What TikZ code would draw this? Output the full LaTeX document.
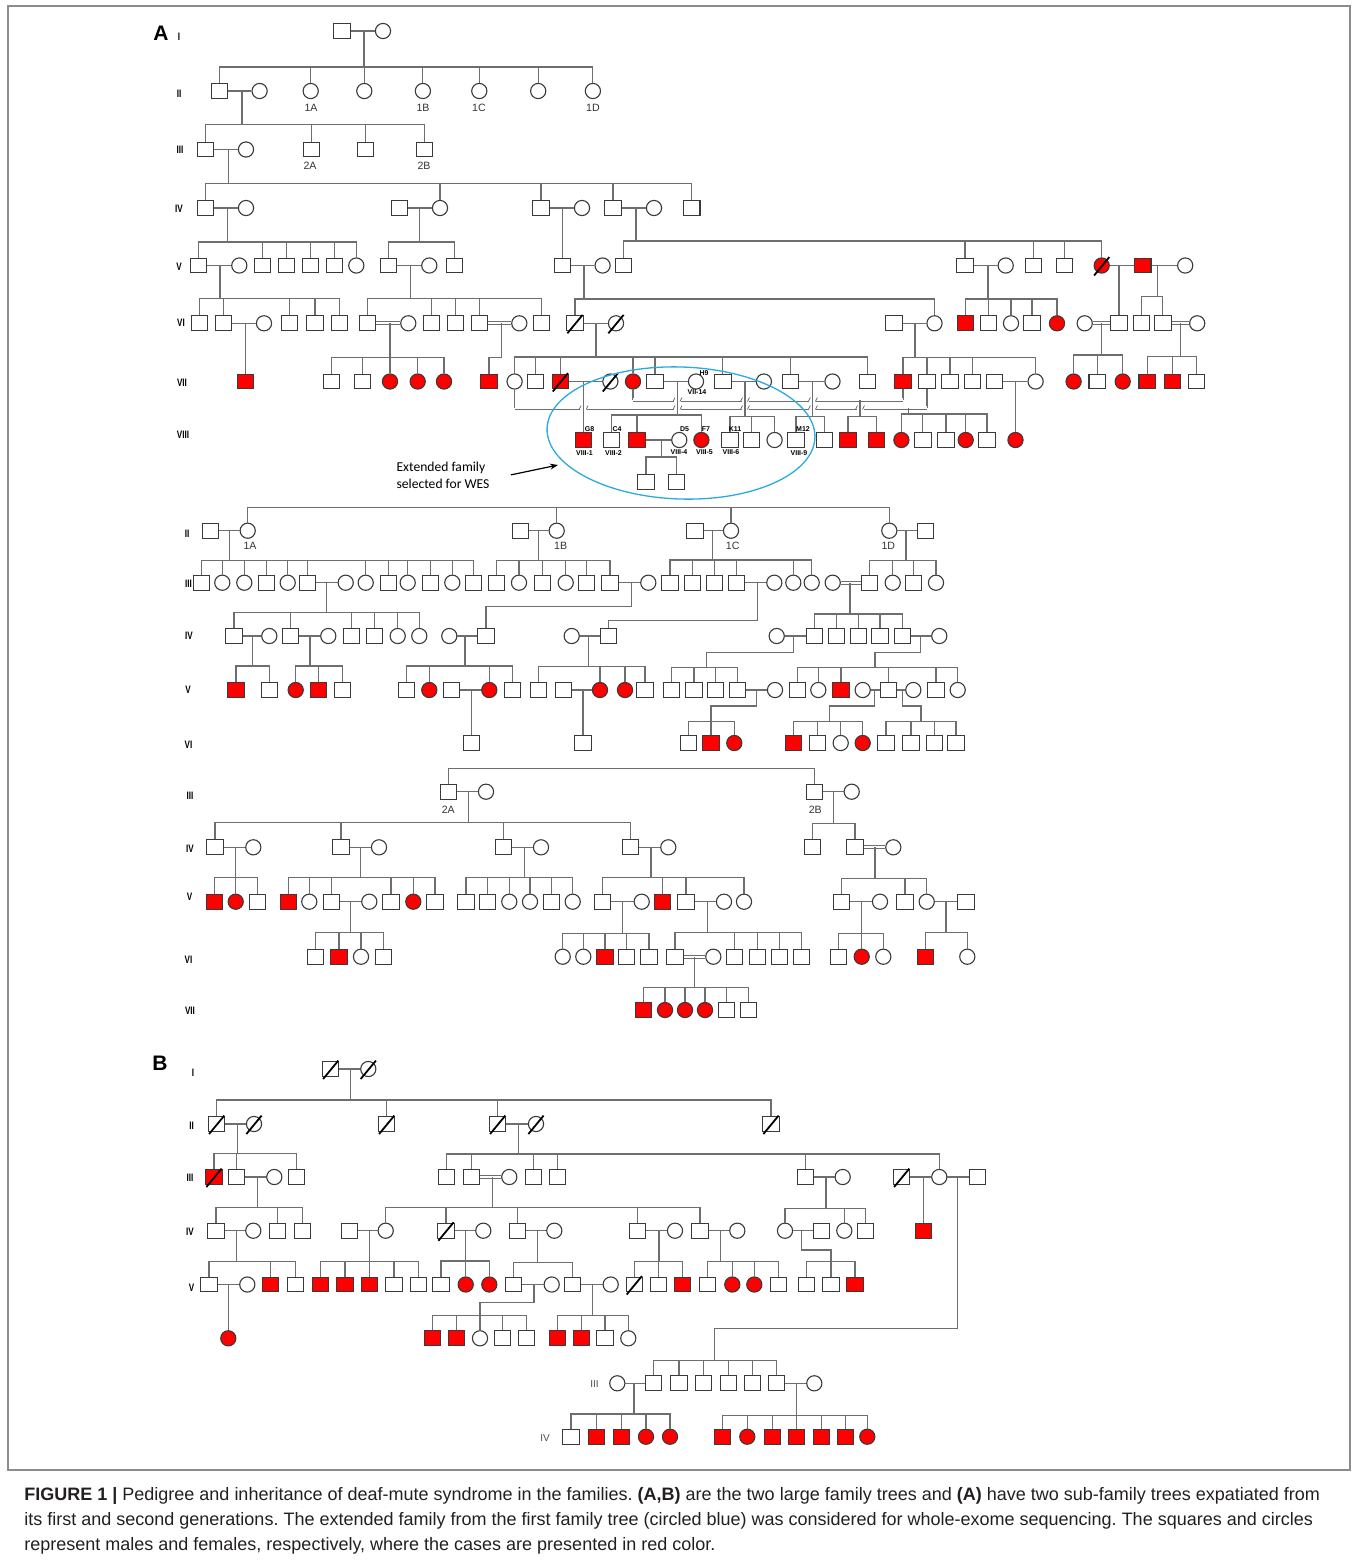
\documentclass[tikz,border=0pt]{standalone}
\usepackage{fontspec}
\setmainfont{Liberation Sans}
\newfontfamily\narrowf[FakeStretch=0.75]{Liberation Sans}
\newfontfamily\calib{Carlito}
\usetikzlibrary{calc,arrows.meta}
\definecolor{lncol}{HTML}{6E6E6E}
\definecolor{symcol}{HTML}{3A3A3A}
\definecolor{affred}{HTML}{FF0000}
\definecolor{wesblue}{HTML}{29ABE2}
\definecolor{captxt}{HTML}{231F20}
\definecolor{framecol}{HTML}{8C8C8C}
\tikzset{
 ln/.style={draw=lncol, line width=0.55pt},
 dbl/.style={draw=lncol, line width=0.45pt, double=white, double distance=1.1pt},
 ma/.style={rectangle, draw=symcol, line width=0.55pt, fill=white, minimum width=8.2pt, minimum height=7.4pt, inner sep=0pt},
 fe/.style={circle, draw=symcol, line width=0.55pt, fill=white, minimum size=7.6pt, inner sep=0pt},
 aff/.style={fill=affred},
 deadln/.style={draw=black, line width=0.9pt},
 gen/.style={font=\narrowf\bfseries\fontsize{5.4}{6}\selectfont, inner sep=0pt},
 genl/.style={font=\fontsize{5}{6}\selectfont, text=black!70, inner sep=0pt},
 lbl/.style={font=\fontsize{5.3}{6}\selectfont, text=black!80, inner sep=0pt},
 tinyl/.style={font=\bfseries\fontsize{3.5}{4}\selectfont, inner sep=0pt},
 captext/.style={anchor=base west, font=\frenchspacing\fontsize{9}{11}\selectfont, text=captxt, inner sep=0pt},
}
\def\Y{0}
\newcommand\nM[2]{\node[ma] (#1) at (#2,\Y) {};}
\newcommand\nF[2]{\node[fe] (#1) at (#2,\Y) {};}
\newcommand\nMr[2]{\node[ma,aff] (#1) at (#2,\Y) {};}
\newcommand\nFr[2]{\node[fe,aff] (#1) at (#2,\Y) {};}
\newcommand\wed[2]{\draw[ln] (#1) -- (#2);}
\newcommand\cwed[2]{\draw[dbl] (#1) -- (#2);}
\newcommand\kids[2]{\foreach \kid in {#2}{\draw[ln] (\kid.north) |- (#1);}}
\newcommand\sibs[5]{\coordinate (#1) at (#3,#4); \draw[ln] (#1 |- #2) -- (#1); \kids{#1}{#5}}
\newcommand\onechild[2]{\draw[ln] (#2.north |- #1) -- (#2.north);}
\newcommand\deceased[1]{\draw[deadln] ([shift={(-3.8pt,-5pt)}]#1.center) -- ([shift={(3.8pt,4.2pt)}]#1.center);}
\newcommand\jump[2]{\fill[white] (#1-3.5,#2-3) rectangle (#1+3.5,#2+3);
  \draw[lncol, line width=0.4pt] (#1-4.5,#2+2) -- (#1-2.5,#2-2); \draw[lncol, line width=0.4pt] (#1+2.5,#2+2) -- (#1+4.5,#2-2);}
\begin{document}
\begin{tikzpicture}[x=0.5pt,y=-0.5pt]
\useasboundingbox (0,0) rectangle (1357,1560);
\draw[framecol, line width=0.6pt] (8,6) rectangle (1350,1470);

% ===================== A (main tree) =====================
\node[font=\bfseries\fontsize{10.5}{12}\selectfont, inner sep=0pt] (labA) at (161,33) {A};
\node[gen] (gA1) at (179,37) {I};
\node[gen] (gA2) at (179,94) {II};
\node[gen] (gA3) at (180,150) {III};
\node[gen] (gA4) at (179,209) {IV};
\node[gen] (gA5) at (179,267) {V};
\node[gen] (gA6) at (181,323) {VI};
\node[gen] (gA7) at (182,383) {VII};
\node[gen] (gA8) at (183,435) {VIII};

\def\Y{31}
\nM{a1}{342} \nF{a2}{383}
\wed{a1}{a2}
\def\Y{91}
\nM{b1}{219.5} \nF{b2}{259.6} \nF{b3}{310.7} \nF{b4}{364.3} \nF{b5}{422.9} \nF{b6}{479.3} \nF{b7}{538.2} \nF{b8}{592.9}
\sibs{D1}{a1}{364}{67}{b1,b3,b4,b5,b6,b7,b8}
\wed{b1}{b2}
\node[lbl] (t1A) at (311,107.5) {1A};
\node[lbl] (t1B) at (423,107.5) {1B};
\node[lbl] (t1C) at (479,107.5) {1C};
\node[lbl] (t1D) at (593,107.5) {1D};
\def\Y{149.5}
\nM{c1}{205.4} \nF{c2}{246} \nM{c3}{311.4} \nM{c4}{365.7} \nM{c5}{424.6}
\sibs{D2}{b1}{242}{124.5}{c1,c3,c4,c5}
\wed{c1}{c2}
\node[lbl] (t2A) at (310,166) {2A};
\node[lbl] (t2B) at (424,166) {2B};
\def\Y{208}
\nM{d1}{205.4} \nF{d2}{246} \nM{d3}{399.6} \nF{d4}{440} \nM{d5}{541} \nF{d6}{582} \nM{d7}{613} \nF{d8}{654} \nM{d9}{691.8}
\sibs{D3}{c1}{228.6}{183.5}{d1,d4,d5,d7,d9}
\wed{d1}{d2} \wed{d3}{d4} \wed{d5}{d6} \wed{d7}{d8}
\def\Y{265.5}
\nM{e1}{198.7} \nF{e2}{239.3} \nM{e3}{262.3} \nM{e4}{286.7} \nM{e5}{310.7} \nM{e6}{334.7} \nF{e7}{356.3}
\sibs{D4}{d1}{227.5}{242}{e1,e3,e4,e5,e6,e7}
\nM{e8}{388.7} \nF{e9}{429.3} \nM{e10}{454.7}
\sibs{D5}{d3}{419.3}{242}{e8,e10}
\nM{e11}{562.4} \nF{e12}{602.6}
\onechild{d5}{e11}
\nM{e13}{623.6} \nM{e14}{965} \nF{e15}{1005.7} \nM{e16}{1033.4} \nM{e17}{1064.6} \nFr{e18}{1101.7} \nMr{e19}{1142.8} \nF{e20}{1185.2}
\sibs{D6}{d7}{636}{241}{e13,e14,e16,e17,e18}
\wed{e1}{e2} \wed{e8}{e9} \wed{e11}{e12} \wed{e14}{e15} \wed{e18}{e19} \wed{e19}{e20}
\deceased{e18}
\def\Y{323.3}
\nM{f1}{199.3} \nM{f2}{223.3} \nF{f3}{264} \nM{f4}{289.3} \nM{f5}{315} \nM{f6}{339.3}
\sibs{D7}{e1}{220}{298.3}{f1,f2,f4,f5,f6}
\nM{f7}{367.7} \nF{f8}{408.3} \nM{f9}{431.7} \nM{f10}{455.7} \nM{f11}{479.3} \nF{f12}{519.3} \nM{f13}{541.7}
\sibs{D8}{e8}{410.7}{298.3}{f7,f9,f10,f11,f13}
\nM{f14}{575} \nF{f15}{616} \nM{f16}{894} \nF{f17}{934.5}
\sibs{D9}{e11}{584}{299}{f14,f17}
\nMr{f18}{965.5} \nM{f19}{988.7} \nF{f20}{1011} \nM{f21}{1032} \nFr{f22}{1057}
\sibs{D10}{e14}{988}{299}{f18,f19,f20,f21,f22}
\nF{f23}{1084.7} \nM{f24}{1119}
\onechild{e18}{f24}
\nM{f25}{1141.4} \nM{f26}{1162.9} \nF{f27}{1197.2}
\sibs{D11}{e19}{1157.5}{296.7}{f25,f26}
\wed{f2}{f3} \cwed{f7}{f8} \cwed{f11}{f12} \wed{f14}{f15} \wed{f16}{f17} \cwed{f23}{f24} \cwed{f26}{f27}
\deceased{f14} \deceased{f15}
\def\Y{381.5}
\nMr{g1}{245.3}
\onechild{f2}{g1}
\nM{g2}{331.7} \nM{g3}{362.7} \nFr{g4}{390} \nFr{g5}{417.7} \nFr{g6}{444}
\sibs{D12}{f7}{390}{357.7}{g2,g3,g4,g5,g6}
\nMr{g7}{489}
\coordinate (D13) at (501.7,357.7);
\draw[ln] (D13 |- f11) -- (D13) -| (g7.north);
\nF{g8}{514.6} \nM{g9}{535.4} \nMr{g10}{560.4} \nF{g11}{610.4} \nFr{g12}{633} \nM{g13}{655} \nF{g14}{696} \nM{g15}{722.9} \nF{g16}{763.9} \nM{g17}{790.7} \nF{g18}{832.5} \nM{g19}{867.5}
\sibs{D14}{f14}{596}{357}{g8,g9,g10,g12,g13,g15,g17,g19}
\nMr{g20}{903} \nM{g21}{927} \nM{g22}{950} \nM{g23}{972.5} \nM{g24}{994.6} \nF{g25}{1035.6}
\sibs{D15}{f16}{915}{357.7}{g20,g21,g22,g23,g25}
\nFr{g26}{1073.6} \nM{g27}{1097.2} \nFr{g28}{1122.7}
\sibs{D16}{f23}{1101.7}{355}{g26,g27,g28}
\nMr{g29}{1147.2} \nMr{g30}{1172.7} \nM{g31}{1196.3}
\sibs{D17}{f26}{1180.7}{356.7}{g29,g30,g31}
\wed{g10}{g11} \wed{g13}{g14} \wed{g15}{g16} \wed{g17}{g18} \wed{g24}{g25}
\deceased{g10} \deceased{g11}
\node[tinyl] (tH9) at (704,373.5) {H9};
\node[tinyl] (tVII14) at (697,392.5) {VII-14};
% consanguineous loops
\coordinate (T1a) at (633,399.5); \coordinate (T1b) at (903,399.5);
\draw[ln] (g12.south) -- (T1a); \draw[ln] (g20.south) -- (T1b); \draw[dbl] (T1a) -- (T1b);
\coordinate (T2a) at (514.6,407.5); \coordinate (T2b) at (927,407.5);
\draw[ln] (g8.south) -- (T2a); \draw[ln] (g21.south) -- (T2b); \draw[dbl] (T2a) -- (T2b);
\jump{677.5}{399.5} \jump{745}{399.5} \jump{812.9}{399.5}
\jump{583.6}{407.5} \jump{677.5}{407.5} \jump{745}{407.5} \jump{812.9}{407.5} \jump{860}{407.5}
\def\Y{440}
\nMr{h1}{583.6}
\onechild{g10}{h1}
\nM{h2}{611.4} \nMr{h3}{637} \nF{h4}{679.3} \nFr{h5}{701.4}
\sibs{D18}{g13}{677.5}{415}{h2,h3,h5}
\nM{h6}{730} \nM{h7}{751.4} \nF{h8}{774.6}
\sibs{D19}{g15}{745}{416.7}{h6,h7,h8}
\nM{h9}{796} \nM{h10}{824.6}
\sibs{D20}{g17}{812.9}{416.7}{h9,h10}
\nMr{h11}{848} \nMr{h12}{876.4}
\sibs{D21}{T1a}{860}{416.7}{h11,h12}
\nFr{h13}{901.4} \nM{h14}{922.9} \nM{h15}{946} \nFr{h16}{965.7} \nM{h17}{987}
\sibs{D22}{T2a}{908.6}{414}{h13,h14,h15,h16,h17}
\nFr{h18}{1015.5}
\onechild{g24}{h18}
\wed{h3}{h4}
\node[tinyl] (tG8) at (589.5,429) {G8};
\node[tinyl] (tC4) at (617,429) {C4};
\node[tinyl] (tD5) at (684.5,429) {D5};
\node[tinyl] (tF7) at (706,429) {F7};
\node[tinyl] (tK11) at (735,429) {K11};
\node[tinyl] (tM12) at (803,429) {M12};
\node[tinyl] (tV1) at (584.5,453.5) {VIII-1};
\node[tinyl] (tV2) at (613.5,453.5) {VIII-2};
\node[tinyl] (tV4) at (679,452) {VIII-4};
\node[tinyl] (tV5) at (704.5,452) {VIII-5};
\node[tinyl] (tV6) at (731,452) {VIII-6};
\node[tinyl] (tV9) at (799,453.5) {VIII-9};
\def\Y{481.7}
\nM{i1}{646} \nM{i2}{676.4}
\sibs{D23}{h3}{661.4}{457}{i1,i2}
\draw[wesblue, line width=0.65pt, rotate around={-2:(681,433)}] (681,433) ellipse [x radius=67pt, y radius=33pt];
\node[font=\calib\fontsize{6.8}{8.6}\selectfont, align=left, inner sep=0pt] (wesTxt) at (443,475.5) {Extended family\\selected for WES};
\coordinate (arrTip) at (558,465);
\draw[black, line width=0.6pt, -{Stealth[length=4pt,width=3pt]}] ([xshift=10.5pt,yshift=0.3pt]wesTxt.east) -- (arrTip);

% ===================== A sub-tree 1 (1A-1D) =====================
\node[gen] (gB2) at (187,533.5) {II};
\node[gen] (gB3) at (188.5,583.5) {III};
\node[gen] (gB4) at (189,636) {IV};
\node[gen] (gB5) at (188,689.5) {V};
\node[gen] (gB6) at (188.5,745) {VI};
\def\Y{530.7}
\nM{j1}{210.7} \nF{j2}{247.7} \nM{j3}{520.7} \nF{j4}{556.7} \nM{j5}{695} \nF{j6}{731} \nF{j7}{889.3} \nM{j8}{925.7}
\coordinate (Dj) at (889.3,507.3);
\kids{Dj}{j2,j4,j6,j7}
\wed{j1}{j2} \wed{j3}{j4} \wed{j5}{j6} \wed{j7}{j8}
\node[lbl] (s1A) at (250,546) {1A};
\node[lbl] (s1B) at (560.7,546) {1B};
\node[lbl] (s1C) at (732.7,546) {1C};
\node[lbl] (s1D) at (888.3,546) {1D};
\def\Y{582.7}
\nM{k1}{201.7} \nF{k2}{222.3} \nF{k3}{244.3} \nM{k4}{266.3} \nF{k5}{287.7} \nM{k6}{307.7} \nF{k7}{345.7} \nF{k8}{365.7} \nM{k9}{388.3} \nF{k10}{407.7} \nM{k11}{430.3} \nF{k12}{452.3} \nM{k13}{473.3}
\sibs{Dk1}{j1}{229.3}{560.7}{k1,k2,k3,k4,k5,k6,k8,k9,k10,k11,k12,k13}
\nM{k14}{496.7} \nF{k15}{519} \nM{k16}{542.3} \nF{k17}{565.7} \nM{k18}{586.7} \nM{k19}{610} \nF{k20}{648.3}
\sibs{Dk2}{j3}{538.3}{560.7}{k14,k15,k16,k17,k18,k19}
\nM{k21}{670} \nM{k22}{692.7} \nM{k23}{714.3} \nM{k24}{736.7} \nF{k25}{774.3} \nF{k26}{793.3} \nF{k27}{811.7}
\sibs{Dk3}{j5}{712.7}{560}{k21,k22,k23,k24,k26,k27}
\nF{k28}{832.7} \nM{k29}{869.3} \nF{k30}{892.7} \nM{k31}{913.3} \nF{k32}{936}
\sibs{Dk4}{j7}{906}{560.7}{k29,k30,k31,k32}
\wed{k6}{k7} \wed{k19}{k20} \wed{k24}{k25} \cwed{k28}{k29}
\def\Y{636}
\nM{l1}{234} \nF{l2}{269.3} \nM{l3}{290.7} \nF{l4}{328.3} \nM{l5}{351.7} \nM{l6}{374.3} \nF{l7}{397.7} \nF{l8}{419.3}
\sibs{Dl1}{k6}{326.7}{612.7}{l1,l3,l5,l6,l7,l8}
\nF{l9}{449.3} \nM{l10}{486}
\coordinate (Dl2) at (631.7,606.7);
\draw[ln] (Dl2 |- k19) -- (Dl2) -| (l10.north);
\nF{l11}{571.7} \nM{l12}{608.3}
\coordinate (Dl3) at (757.3,620.7);
\draw[ln] (Dl3 |- k24) -- (Dl3) -| (l12.north);
\nF{l13}{776.7} \nM{l14}{814.3} \nM{l15}{836.7} \nM{l16}{858.3} \nM{l17}{880} \nM{l18}{902.7} \nF{l19}{939.3}
\sibs{Dl4}{k28}{850}{614}{l14,l15,l16,l17,l18}
\wed{l1}{l2} \wed{l3}{l4} \wed{l9}{l10} \wed{l11}{l12} \wed{l13}{l14} \wed{l18}{l19}
\def\Y{690}
\nMr{m1}{236} \nM{m2}{269.3}
\sibs{Dm1}{l1}{252.7}{666}{m1,m2}
\nFr{m3}{295.7} \nMr{m4}{318.3} \nM{m5}{342.3}
\sibs{Dm2}{l3}{310}{666}{m3,m4,m5}
\nM{m6}{406.7} \nFr{m7}{429.3} \nM{m8}{451.7} \nFr{m9}{489.3} \nM{m10}{512.3}
\sibs{Dm3}{l9}{465}{666}{m6,m7,m9,m10}
\nM{m11}{538.3} \nM{m12}{563.3} \nFr{m13}{600} \nFr{m14}{625} \nM{m15}{645}
\sibs{Dm4}{l11}{588.3}{666.7}{m11,m13,m14,m15}
\nM{m16}{671.7} \nM{m17}{694} \nM{m18}{715.7} \nM{m19}{737.3} \nF{m20}{775}
\coordinate (Dm5a) at (793.3,652.7); \coordinate (Dm5) at (706.7,667.3);
\draw[ln] (Dm5a |- l13) -- (Dm5a) -| (Dm5);
\kids{Dm5}{m16,m17,m18,m19}
\nM{m21}{797.3} \nF{m22}{818.3} \nMr{m23}{841} \nF{m24}{862.7} \nM{m25}{888.3} \nF{m26}{913.3} \nM{m27}{936} \nF{m28}{957.7}
\coordinate (Dm6a) at (920.7,652.7); \coordinate (Dm6) at (875,667.3);
\draw[ln] (Dm6a |- l18) -- (Dm6a) -| (Dm6);
\kids{Dm6}{m21,m22,m23,m25,m27,m28}
\wed{m8}{m9} \wed{m12}{m13} \wed{m19}{m20} \wed{m24}{m25} \wed{m25}{m26}
\def\Y{743}
\nM{n1}{471.7}
\onechild{m8}{n1}
\nM{n2}{583}
\onechild{m12}{n2}
\nM{n3}{688.3} \nMr{n4}{711} \nFr{n5}{734.3}
\coordinate (Dn3a) at (756.7,706); \coordinate (Dn3) at (711,721.7);
\draw[ln] (Dn3a |- m19) -- (Dn3a) -| (Dn3);
\kids{Dn3}{n3,n4,n5}
\nMr{n6}{793.3} \nM{n7}{817.3} \nF{n8}{840.7} \nFr{n9}{862.7}
\coordinate (Dn4a) at (874.3,706); \coordinate (Dn4) at (829.3,721.7);
\draw[ln] (Dn4a |- m24) -- (Dn4a) -| (Dn4);
\kids{Dn4}{n6,n7,n8,n9}
\nM{n10}{886} \nM{n11}{911} \nM{n12}{934.3} \nM{n13}{956}
\coordinate (Dn5a) at (902.3,706); \coordinate (Dn5) at (921,721.7);
\draw[ln] (Dn5a |- m25) -- (Dn5a) -| (Dn5);
\kids{Dn5}{n10,n11,n12,n13}

% ===================== A sub-tree 2 (2A, 2B) =====================
\node[gen] (gC3) at (190,796) {III};
\node[gen] (gC4) at (190,848.5) {IV};
\node[gen] (gC5) at (189.5,897) {V};
\node[gen] (gC6) at (188.5,959.5) {VI};
\node[gen] (gC7) at (190,1010.5) {VII};
\def\Y{791.7}
\nM{o1}{448.3} \nF{o2}{486} \nM{o3}{814.3} \nF{o4}{851.7}
\coordinate (Do) at (814.3,768.3);
\kids{Do}{o1,o3}
\wed{o1}{o2} \wed{o3}{o4}
\node[lbl] (s2A) at (448.3,810) {2A};
\node[lbl] (s2B) at (815.3,809.5) {2B};
\def\Y{847.3}
\nM{p1}{215} \nF{p2}{253.3} \nM{p3}{341} \nF{p4}{379} \nM{p5}{503.3} \nF{p6}{541} \nM{p7}{630.7} \nF{p8}{668.3}
\sibs{Dp1}{o1}{468.3}{822.7}{p1,p3,p5,p7}
\nM{p9}{812.3} \nM{p10}{855} \nF{p11}{893.3}
\sibs{Dp2}{o3}{833.3}{823.3}{p9,p10}
\wed{p1}{p2} \wed{p3}{p4} \wed{p5}{p6} \wed{p7}{p8} \cwed{p10}{p11}
\def\Y{901.7}
\nMr{q1}{214.3} \nFr{q2}{235.7} \nM{q3}{257.3}
\sibs{Dq1}{p1}{235.7}{877.3}{q1,q2,q3}
\nMr{q4}{288.3} \nF{q5}{309.3} \nM{q6}{331.7} \nF{q7}{369.3} \nM{q8}{391} \nFr{q9}{413.3} \nM{q10}{435}
\sibs{Dq2}{p3}{360.7}{877.3}{q4,q5,q6,q8,q9,q10}
\nM{q11}{466} \nM{q12}{487.7} \nF{q13}{509.3} \nF{q14}{530} \nM{q15}{551.7} \nF{q16}{572.7}
\sibs{Dq3}{p5}{524.3}{877.3}{q11,q12,q13,q14,q15,q16}
\nM{q17}{602.7} \nF{q18}{641.7} \nMr{q19}{662.3} \nM{q20}{686} \nF{q21}{724} \nF{q22}{744}
\sibs{Dq4}{p7}{651}{877.3}{q17,q19,q20,q22}
\nM{q23}{841.7} \nF{q24}{880} \nM{q25}{905} \nF{q26}{926.7} \nM{q27}{966}
\sibs{Dq5}{p10}{875}{878.3}{q23,q25,q26}
\wed{q6}{q7} \wed{q17}{q18} \wed{q20}{q21} \wed{q23}{q24} \wed{q26}{q27}
\def\Y{956.7}
\nM{r1}{315.7} \nMr{r2}{339} \nF{r3}{361} \nM{r4}{383.3}
\sibs{Dr1}{q6}{350.3}{932.7}{r1,r2,r3,r4}
\nF{r5}{562.7} \nF{r6}{583.3} \nMr{r7}{605} \nM{r8}{626.7} \nM{r9}{649}
\sibs{Dr2}{q17}{622.7}{933.3}{r5,r6,r7,r8,r9}
\nM{r10}{675} \nF{r11}{713.3} \nM{r12}{734.3} \nM{r13}{757.3} \nM{r14}{779.3} \nM{r15}{801.7}
\sibs{Dr3}{q20}{707.3}{932.7}{r10,r12,r13,r14,r15}
\nM{r16}{838.3} \nFr{r17}{861.7} \nF{r18}{883.3}
\sibs{Dr4}{q23}{861.7}{933.3}{r16,r17,r18}
\nMr{r19}{925.7} \nF{r20}{967.3}
\sibs{Dr5}{q26}{946}{932.7}{r19,r20}
\cwed{r10}{r11}
\def\Y{1010}
\nMr{s1}{643.3} \nFr{s2}{665} \nFr{s3}{685} \nFr{s4}{705} \nM{s5}{726.7} \nM{s6}{748.3}
\sibs{Ds}{r10}{694.3}{987.3}{s1,s2,s3,s4,s5,s6}

% ===================== B =====================
\node[font=\bfseries\fontsize{10.5}{12}\selectfont, inner sep=0pt] (labB) at (160,1063) {B};
\node[gen] (gD1) at (193,1072.5) {I};
\node[gen] (gD2) at (191.5,1125.5) {II};
\node[gen] (gD3) at (190,1177.5) {III};
\node[gen] (gD4) at (190,1232) {IV};
\node[gen] (gD5) at (191.5,1288) {V};
\def\Y{1069}
\nM{t1}{330.7} \nF{t2}{368.3}
\wed{t1}{t2}
\deceased{t1} \deceased{t2}
\def\Y{1124}
\nM{u1}{216.7} \nF{u2}{254} \nM{u3}{386.7} \nM{u4}{497.7} \nF{u5}{536} \nM{u6}{771}
\sibs{Dt}{t1}{350.7}{1100}{u1,u3,u4,u6}
\wed{u1}{u2} \wed{u4}{u5}
\deceased{u1} \deceased{u2} \deceased{u3} \deceased{u4} \deceased{u5} \deceased{u6}
\def\Y{1177}
\nMr{v1}{214} \nM{v2}{236.7} \nF{v3}{274.3} \nM{v4}{296.7}
\sibs{Du1}{u1}{237.3}{1153.3}{v1,v2,v4}
\nM{v5}{446.7} \nM{v6}{471.7} \nF{v7}{509.3} \nM{v8}{533.3} \nM{v9}{557.7} \nM{v10}{805.7} \nF{v11}{842.7} \nM{v12}{901.7} \nF{v13}{939.3} \nM{v14}{977.3}
\sibs{Du2}{u4}{518.3}{1154}{v5,v6,v8,v9,v10,v13}
\wed{v2}{v3} \cwed{v6}{v7} \wed{v10}{v11} \wed{v12}{v13} \wed{v13}{v14}
\deceased{v1} \deceased{v12}
\def\Y{1230.7}
\nM{w1}{216} \nF{w2}{253.3} \nM{w3}{277.7} \nM{w4}{302.7}
\sibs{Dv1}{v2}{257.3}{1207.7}{w1,w3,w4}
\nM{w5}{349.3} \nF{w6}{385.7} \nM{w7}{446} \nF{w8}{483.3} \nM{w9}{517.7} \nF{w10}{554.3} \nM{w11}{637.7} \nF{w12}{675} \nM{w13}{700} \nF{w14}{737.3}
\sibs{Dv2}{v6}{492.3}{1207.7}{w6,w7,w9,w11,w13}
\nF{w15}{785} \nM{w16}{821.7} \nF{w17}{844.3} \nM{w18}{865.7}
\sibs{Dv3}{v10}{826}{1208.3}{w15,w17,w18}
\nMr{w19}{923.3}
\onechild{v12}{w19}
\wed{w1}{w2} \wed{w5}{w6} \wed{w7}{w8} \wed{w9}{w10} \wed{w11}{w12} \wed{w13}{w14} \wed{w15}{w16}
\deceased{w7}
\coordinate (Dz0) at (957.7,1328.3); \coordinate (Dz) at (714.3,1360.7);
\draw[ln] (Dz0 |- v13) -- (Dz0) -| (Dz);
\def\Y{1284.5}
\nM{x1}{209} \nF{x2}{247.3} \nMr{x3}{270.7} \nM{x4}{295.7}
\sibs{Dw1}{w1}{236.7}{1261.7}{x1,x3,x4}
\nMr{x5}{320.7} \nMr{x6}{345} \nMr{x7}{369.3} \nM{x8}{394} \nM{x9}{418.3}
\sibs{Dw2}{w5}{369.3}{1261.7}{x5,x6,x7,x8,x9}
\nM{x10}{441} \nFr{x11}{465.7} \nFr{x12}{489.3}
\sibs{Dw3}{w7}{465.7}{1261}{x10,x11,x12}
\nM{x13}{513.3} \nF{x14}{551.7} \nM{x15}{572.7} \nF{x16}{610.7}
\sibs{Dw4}{w9}{537.3}{1262.3}{x13,x15}
\nM{x17}{634.3} \nM{x18}{658.3} \nMr{x19}{682.3}
\sibs{Dw5}{w11}{659}{1261.7}{x17,x18,x19}
\nM{x20}{707.3} \nFr{x21}{732.3} \nFr{x22}{754.3} \nM{x23}{778.3}
\sibs{Dw6}{w13}{720.7}{1261.7}{x20,x21,x22,x23}
\nM{x24}{806.7} \nM{x25}{831} \nMr{x26}{855}
\coordinate (Dw7a) at (801.7,1250); \coordinate (Dw7) at (831,1261.7);
\draw[ln] (Dw7a |- w15) -- (Dw7a) -| (Dw7);
\kids{Dw7}{x24,x25,x26}
\wed{x1}{x2} \wed{x13}{x14} \wed{x15}{x16}
\deceased{x17}
\def\Y{1338.3}
\nFr{y1}{228.3}
\onechild{x1}{y1}
\nMr{y2}{432.7} \nMr{y3}{456.7} \nF{y4}{480} \nM{y5}{502.7} \nM{y6}{526.7}
\coordinate (Dx1a) at (534,1302.7); \coordinate (Dx1) at (480,1315.7);
\draw[ln] (Dx1a |- x13) -- (Dx1a) -| (Dx1);
\kids{Dx1}{y2,y3,y4,y5,y6}
\nMr{y7}{557.7} \nMr{y8}{581.7} \nM{y9}{605} \nF{y10}{628.3}
\sibs{Dx2}{x15}{592.3}{1315.7}{y7,y8,y9,y10}
% sub-family
\node[genl] (gE3) at (594.5,1384) {III};
\node[genl] (gE4) at (545,1438) {IV};
\def\Y{1383.3}
\nF{z1}{617.3} \nM{z2}{653.3} \nM{z3}{679} \nM{z4}{703.3} \nM{z5}{728.3} \nM{z6}{752.3} \nM{z7}{776.7} \nF{z8}{814.3}
\kids{Dz}{z2,z3,z4,z5,z6,z7}
\wed{z1}{z2} \wed{z7}{z8}
\def\Y{1436.7}
\nM{aa1}{571} \nMr{aa2}{596.7} \nMr{aa3}{621.7} \nFr{aa4}{646} \nFr{aa5}{670}
\sibs{Dz1}{z1}{634}{1414}{aa1,aa2,aa3,aa4,aa5}
\nMr{bb1}{722.7} \nFr{bb2}{747.3} \nMr{bb3}{772.3} \nMr{bb4}{796.7} \nMr{bb5}{821.7} \nMr{bb6}{845.7} \nFr{bb7}{867.3}
\sibs{Dz2}{z7}{796.7}{1415.7}{bb1,bb2,bb3,bb4,bb5,bb6,bb7}

% ===================== caption =====================
\node[captext] (cap1) at (24,1500) {\textbf{FIGURE 1 |} Pedigree and inheritance of deaf-mute syndrome in the families. \textbf{(A,B)} are the two large family trees and \textbf{(A)} have two sub-family trees expatiated from};
\node[captext] (cap2) at (24,1525) {its first and second generations. The extended family from the first family tree (circled blue) was considered for whole-exome sequencing. The squares and circles};
\node[captext] (cap3) at (24,1550) {represent males and females, respectively, where the cases are presented in red color.};
\end{tikzpicture}
\end{document}
